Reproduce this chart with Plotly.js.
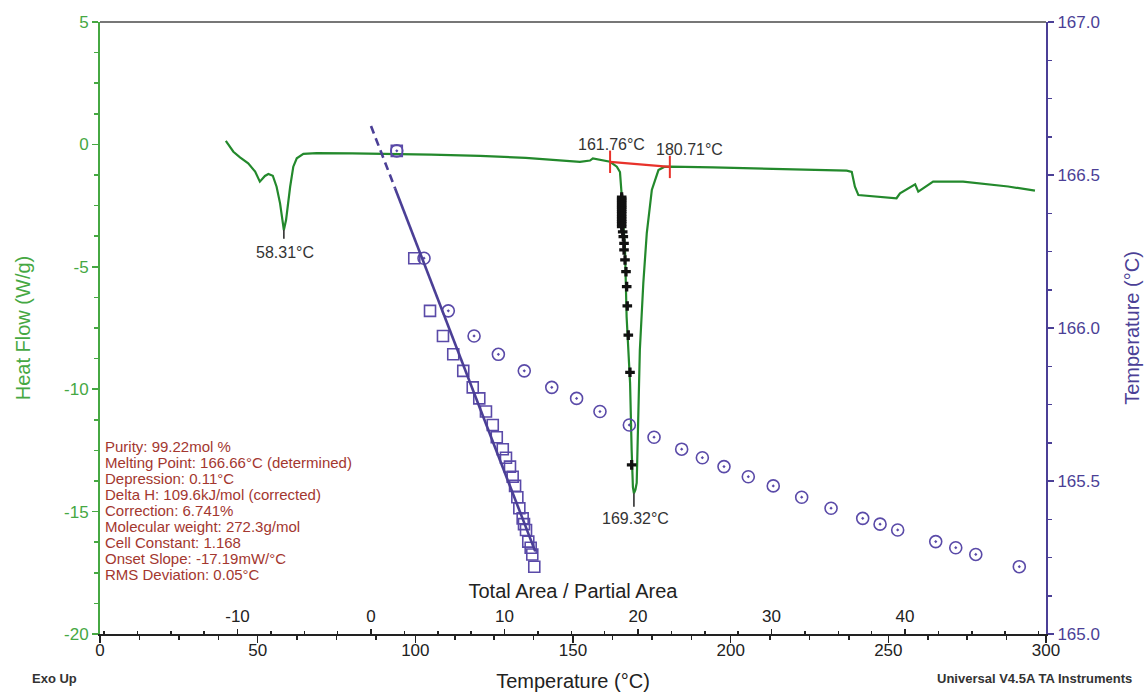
<!DOCTYPE html>
<html>
<head>
<meta charset="utf-8">
<script src="https://cdn.plot.ly/plotly-3.0.1.min.js"></script>
<style>html,body{margin:0;padding:0;background:#fff;}#chart{width:1146px;height:692px;}</style>
</head>
<body>
<div id="chart"></div>
<script>
// ---- DSC heat-flow curve (bottom axis: Temperature °C, left axis: Heat Flow W/g)
const tempC = [39.9, 41.3, 42.3, 44.4, 47.0, 49.2, 50.7, 52.3, 53.4, 54.8, 56.0, 57.1, 57.9, 58.31, 59.0, 59.7, 60.3, 61.3, 62.4, 64.5, 68.7, 80.0, 92.9, 105.0, 120.5, 135.0, 152.2, 155.4, 156.3, 157.6, 160.0, 161.76, 163.9, 164.9, 165.4, 165.85, 166.5, 167.0, 168.1, 168.6, 169.0, 169.32, 169.8, 170.2, 170.7, 171.2, 172.3, 173.4, 175.0, 177.1, 178.9, 180.7, 194.4, 210.0, 225.0, 236.8, 238.4, 239.4, 240.5, 244.0, 247.4, 250.0, 252.6, 253.7, 256.9, 258.5, 259.5, 261.0, 264.2, 273.7, 279.1, 288.0, 296.5];
const heatFlow = [0.14, -0.09, -0.30, -0.53, -0.77, -1.11, -1.52, -1.29, -1.21, -1.28, -1.73, -2.41, -3.09, -3.50, -3.09, -2.27, -1.73, -0.91, -0.57, -0.39, -0.36, -0.37, -0.39, -0.42, -0.47, -0.55, -0.71, -0.66, -0.57, -0.60, -0.66, -0.71, -0.91, -1.13, -2.00, -2.88, -4.31, -7.04, -9.75, -12.48, -14.00, -14.25, -14.10, -13.83, -11.12, -8.40, -5.66, -3.62, -1.86, -1.05, -0.92, -0.91, -0.94, -0.99, -1.03, -1.07, -1.12, -1.73, -2.07, -2.10, -2.14, -2.16, -2.20, -2.00, -1.73, -1.63, -1.93, -1.79, -1.52, -1.52, -1.59, -1.72, -1.89];

// peak markers
const peakTemps = [58.31, 169.32];
const peakGreenTip = [-3.50, -14.25];
const peakBlackTip = [-3.85, -14.80];

// integration baseline limits
const baseTemps = [161.76, 180.71];
const baseFlows = [-0.71, -0.92];

// partial-area points on the leading edge of the melt
const partTemps = [165.44, 165.44, 165.44, 165.44, 165.44, 165.44, 165.44, 165.44, 165.44, 165.44, 165.44, 165.44, 165.44, 165.44, 165.76, 165.95, 166.18, 166.18, 166.49, 166.81, 167.03, 167.22, 167.54, 168.08, 168.60];
const partFlows = [-2.15, -2.23, -2.31, -2.39, -2.48, -2.56, -2.64, -2.74, -2.84, -2.95, -3.05, -3.15, -3.25, -3.36, -3.57, -3.77, -4.04, -4.31, -4.72, -5.20, -5.81, -6.60, -7.79, -9.31, -13.09];

// ---- purity plot (top axis: Total Area / Partial Area, right axis: Temperature °C)
const sampleTemp = [166.579, 166.228, 166.056, 165.974, 165.914, 165.860, 165.806, 165.770, 165.727, 165.683, 165.643, 165.604, 165.576, 165.547, 165.514, 165.484, 165.447, 165.411, 165.378, 165.359, 165.340, 165.302, 165.282, 165.260, 165.220];
const invFCorrected = [1.93, 3.24, 4.42, 5.39, 6.16, 6.91, 7.62, 8.11, 8.61, 9.12, 9.42, 9.87, 10.11, 10.41, 10.61, 10.79, 10.96, 11.11, 11.36, 11.46, 11.61, 11.78, 11.96, 12.08, 12.23];
const invFRaw = [1.93, 3.97, 5.79, 7.72, 9.54, 11.48, 13.54, 15.40, 17.15, 19.35, 21.20, 23.27, 24.82, 26.44, 28.26, 30.13, 32.26, 34.46, 36.83, 38.13, 39.45, 42.30, 43.80, 45.30, 48.56];
const fitExtrapX = [0, 1.8];
const fitExtrapY = [166.66, 166.457];
const fitX = [1.8, 12.3];
const fitY = [166.457, 165.27];

// ---- text
const peakLabels = ['58.31°C', '169.32°C', '161.76°C', '180.71°C'];
const peakLabelX = [58.6, 169.8, 162.2, 186.9];
const peakLabelY = [-4.40, -15.30, -0.02, -0.19];
const infoLines = ['Purity: 99.22mol %', 'Melting Point: 166.66°C (determined)', 'Depression: 0.11°C', 'Delta H: 109.6kJ/mol (corrected)', 'Correction: 6.741%', 'Molecular weight: 272.3g/mol', 'Cell Constant: 1.168', 'Onset Slope: -17.19mW/°C', 'RMS Deviation: 0.05°C'];
const bottomTicks = [0, 50, 100, 150, 200, 250, 300];
const bottomTickText = ['0', '50', '100', '150', '200', '250', '300'];
const topTicks = [-10, 0, 10, 20, 30, 40];
const topTickText = ['-10', '0', '10', '20', '30', '40'];
const leftTicks = [5, 0, -5, -10, -15, -20];
const leftTickText = ['5', '0', '-5', '-10', '-15', '-20'];
const rightTicks = [165.0, 165.5, 166.0, 166.5, 167.0];
const rightTickText = ['165.0', '165.5', '166.0', '166.5', '167.0'];

const GREEN = '#23892c', AXGREEN = '#46a843', PURPLE = '#4b3f96', MARK = '#5a4aa8', RED = '#e8322b', INFO = '#a3372f';
const FONT = 'Liberation Sans, Arial, sans-serif';

// plot area geometry for paper placement
const L = 100, R = 1046, T = 22, B = 634;
const px = v => (v - L) / (R - L);
const py = v => (B - v) / (B - T);

const traces = [
  {x: invFCorrected, y: sampleTemp, mode: 'markers', marker: {symbol: 'square-open', size: 11, color: MARK, line: {color: MARK, width: 1.6}}, xaxis: 'x2', yaxis: 'y2'},
  {x: invFRaw, y: sampleTemp, mode: 'markers', marker: {symbol: 'circle-open-dot', size: 12, color: MARK, line: {color: MARK, width: 1.6}}, xaxis: 'x2', yaxis: 'y2'},
  {x: fitExtrapX, y: fitExtrapY, mode: 'lines', line: {color: PURPLE, width: 2.6, dash: '8px,5px'}, xaxis: 'x2', yaxis: 'y2'},
  {x: fitX, y: fitY, mode: 'lines', line: {color: PURPLE, width: 2.6}, xaxis: 'x2', yaxis: 'y2'},
  {x: tempC, y: heatFlow, type: 'scatter', mode: 'lines', line: {color: GREEN, width: 2.2}, xaxis: 'x', yaxis: 'y'},
  {x: [peakTemps[0], peakTemps[0]], y: [peakGreenTip[0], peakBlackTip[0]], mode: 'lines', line: {color: '#222', width: 1.5}, xaxis: 'x', yaxis: 'y'},
  {x: [peakTemps[1], peakTemps[1]], y: [peakGreenTip[1], peakBlackTip[1]], mode: 'lines', line: {color: '#222', width: 1.5}, xaxis: 'x', yaxis: 'y'},
  {x: baseTemps, y: baseFlows, mode: 'lines+markers', line: {color: RED, width: 2.2}, marker: {symbol: 'line-ns-open', size: 16, color: RED, line: {color: RED, width: 2}}, xaxis: 'x', yaxis: 'y'},
  {x: partTemps, y: partFlows, mode: 'markers', marker: {symbol: 'cross', size: 8, color: '#111'}, xaxis: 'x', yaxis: 'y'}
];

const annotations = [];
peakLabels.forEach((t, i) => annotations.push({x: peakLabelX[i], y: peakLabelY[i], xref: 'x', yref: 'y', text: t, showarrow: false, font: {family: FONT, size: 16, color: '#333'}}));
infoLines.forEach((t, i) => annotations.push({x: px(103), y: py(446 + i * 16), xref: 'paper', yref: 'paper', xanchor: 'left', yanchor: 'middle', text: t, showarrow: false, font: {family: FONT, size: 15, color: INFO}}));
annotations.push({x: px(30), y: py(678), xref: 'paper', yref: 'paper', xanchor: 'left', yanchor: 'middle', text: '<b>Exo Up</b>', showarrow: false, font: {family: FONT, size: 13, color: '#333'}});
annotations.push({x: px(935), y: py(678), xref: 'paper', yref: 'paper', xanchor: 'left', yanchor: 'middle', text: '<b>Universal V4.5A TA Instruments</b>', showarrow: false, font: {family: FONT, size: 13, color: '#333'}});

const layout = {
  width: 1146, height: 692,
  margin: {l: L, r: 1146 - R, t: T, b: 692 - B, pad: 0},
  paper_bgcolor: '#fff', plot_bgcolor: '#fff',
  showlegend: false,
  font: {family: FONT, color: '#222'},
  xaxis: {
    range: [0, 300], tickvals: bottomTicks, ticktext: bottomTickText, ticks: 'outside', ticklen: 7, tickwidth: 1.5, tickcolor: '#222',
    ticklabelstandoff: -7,
    minor: {dtick: 12.5, ticks: 'outside', ticklen: 4, tickcolor: '#222', tickwidth: 1.5},
    showline: true, linecolor: '#222', linewidth: 1.5, showgrid: false, zeroline: false,
    tickfont: {family: FONT, size: 17, color: '#222'},
    title: {text: 'Temperature (°C)', font: {family: FONT, size: 20, color: '#222'}, standoff: 18}
  },
  xaxis2: {
    overlaying: 'x', anchor: 'free', position: 0, side: 'top',
    range: [-20.3, 50.56], tickvals: topTicks, ticktext: topTickText, ticks: 'outside', ticklen: 5, tickwidth: 1.5, tickcolor: '#222',
    minor: {dtick: 2.5, ticks: 'outside', ticklen: 3, tickcolor: '#222', tickwidth: 1.5},
    showline: false, showgrid: false, zeroline: false,
    tickfont: {family: FONT, size: 17, color: '#222'},
    title: {text: 'Total Area / Partial Area', font: {family: FONT, size: 20, color: '#222'}, standoff: 2}
  },
  yaxis: {
    range: [-20, 5], tickvals: leftTicks, ticktext: leftTickText, ticks: 'outside', ticklen: 6, tickwidth: 1.5, tickcolor: AXGREEN,
    minor: {dtick: 1.25, ticks: 'outside', ticklen: 4, tickcolor: AXGREEN, tickwidth: 1.5},
    showline: true, linecolor: AXGREEN, linewidth: 2, showgrid: false, zeroline: false,
    tickfont: {family: FONT, size: 17, color: AXGREEN},
    title: {text: 'Heat Flow (W/g)', font: {family: FONT, size: 20, color: AXGREEN}, standoff: 28}
  },
  yaxis2: {
    overlaying: 'y', side: 'right', anchor: 'x',
    range: [165, 167], tickvals: rightTicks, ticktext: rightTickText, ticks: 'outside', ticklen: 6, tickwidth: 1.5, tickcolor: PURPLE,
    minor: {dtick: 0.125, ticks: 'outside', ticklen: 4, tickcolor: PURPLE, tickwidth: 1.5},
    showline: true, linecolor: PURPLE, linewidth: 2, showgrid: false, zeroline: false,
    tickfont: {family: FONT, size: 17, color: PURPLE},
    title: {text: 'Temperature (°C)', font: {family: FONT, size: 20, color: PURPLE}, standoff: 26}
  },
  shapes: [
    {type: 'line', xref: 'paper', yref: 'paper', x0: 0, x1: 1, y0: 1, y1: 1, line: {color: '#777', width: 2}}
  ],
  annotations: annotations
};

Plotly.newPlot('chart', traces, layout, {staticPlot: true, displayModeBar: false});
</script>
</body>
</html>
